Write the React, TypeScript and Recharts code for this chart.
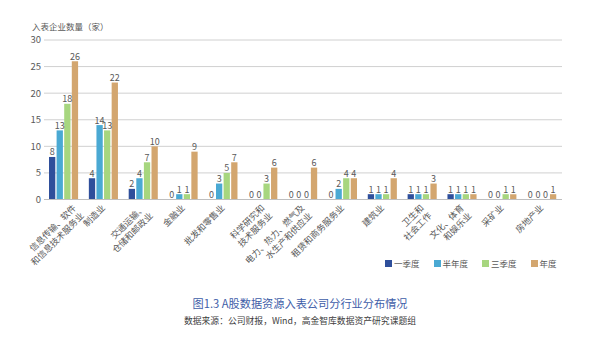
import React from 'react';
import { BarChart, Bar, XAxis, YAxis, CartesianGrid, LabelList, Legend } from 'recharts';

const categories = [
  '信息传输、软件\n和信息技术服务业',
  '制造业',
  '交通运输、\n仓储和邮政业',
  '金融业',
  '批发和零售业',
  '科学研究和\n技术服务业',
  '电力、热力、燃气及\n水生产和供应业',
  '租赁和商务服务业',
  '建筑业',
  '卫生和\n社会工作',
  '文化、体育\n和娱乐业',
  '采矿业',
  '房地产业',
];
const q1 = [8, 4, 2, 0, 0, 0, 0, 0, 1, 1, 1, 0, 0];
const h1 = [13, 14, 4, 1, 3, 0, 0, 2, 1, 1, 1, 0, 0];
const q3 = [18, 13, 7, 1, 5, 3, 0, 4, 1, 1, 1, 1, 0];
const annual = [26, 22, 10, 9, 7, 6, 6, 4, 4, 3, 1, 1, 1];
const yTicks = [0, 5, 10, 15, 20, 25, 30];

const seriesNames = ['一季度', '半年度', '三季度', '年度'];
const seriesKeys = ['q1', 'h1', 'q3', 'annual'];
const colors = ['#2F4F9B', '#4AA9D3', '#A7D67F', '#D3A66F'];

const data = categories.map((c, i) => ({
  name: c,
  q1: q1[i],
  h1: h1[i],
  q3: q3[i],
  annual: annual[i],
}));

const FONT = '"Noto Sans CJK SC", "Noto Sans", sans-serif';
const TICK_FS = 8.8;
const MIN_LEFT = 27;

const XTick = (props: any) => {
  const { x, y, payload } = props;
  const lines = String(payload.value).split('\n');
  const maxLen = Math.max(...lines.map((l) => l.length));
  let dx = 2;
  const left = x + dx - maxLen * TICK_FS * 0.707;
  if (left < MIN_LEFT) dx += MIN_LEFT - left;
  return (
    <g transform={`translate(${x + dx},${y + 9})`}>
      <text transform="rotate(-45)" textAnchor="end" fontSize={TICK_FS} fill="#595959" fontFamily={FONT}>
        {lines.map((l, i) => (
          <tspan key={i} x={0} dy={i === 0 ? 0 : 11}>
            {l}
          </tspan>
        ))}
      </text>
    </g>
  );
};

const LegendContent = () => (
  <div style={{ display: 'flex', alignItems: 'center', fontFamily: FONT, fontSize: 8.5, color: '#595959', lineHeight: 1 }}>
    {seriesNames.map((n, i) => (
      <div key={n} style={{ display: 'flex', alignItems: 'center', marginRight: 14 }}>
        <span style={{ display: 'inline-block', width: 7, height: 7, background: colors[i], marginRight: 2 }} />
        <span>{n}</span>
      </div>
    ))}
  </div>
);

export default function App() {
  return (
    <div style={{ position: 'absolute', left: 0, top: 0, width: 600, height: 341, background: '#fff', fontFamily: FONT }}>
      <BarChart
        width={600}
        height={341}
        data={data}
        margin={{ top: 40, right: 38, bottom: 0, left: 0 }}
        barSize={6.3}
        barGap={1.3}
      >
        <CartesianGrid vertical={false} stroke="#D0D0D0" />
        <XAxis
          dataKey="name"
          interval={0}
          height={141.5}
          tickSize={0}
          tickMargin={0}
          tickLine={false}
          axisLine={{ stroke: '#BFBFBF' }}
          tick={<XTick />}
        />
        <YAxis
          width={44}
          domain={[0, 30]}
          ticks={yTicks}
          tickSize={0}
          tickMargin={3}
          axisLine={false}
          tickLine={false}
          tick={{ fontSize: 9.5, fill: '#595959', fontFamily: FONT }}
        />
        <Legend
          layout="horizontal"
          verticalAlign="middle"
          content={<LegendContent />}
          wrapperStyle={{ top: 259, left: 385, width: 200 }}
        />
        {seriesKeys.map((k, i) => (
          <Bar key={k} dataKey={k} name={seriesNames[i]} fill={colors[i]} minPointSize={0.01} isAnimationActive={false}>
            <LabelList dataKey={k} position="top" offset={1.5} fontSize={9} fill="#595959" fontFamily={FONT} />
          </Bar>
        ))}
      </BarChart>
      <div style={{ position: 'absolute', left: 32, top: 22, fontSize: 8.5, color: '#595959', lineHeight: 1, whiteSpace: 'nowrap' }}>
        入表企业数量（家）
      </div>
      <div style={{ position: 'absolute', left: 0, top: 298, width: 600, textAlign: 'center', fontSize: 11.2, color: '#3E5DA8', lineHeight: 1 }}>
        图1.3 A股数据资源入表公司分行业分布情况
      </div>
      <div style={{ position: 'absolute', left: 0, top: 317, width: 600, textAlign: 'center', fontSize: 8.8, color: '#404040', lineHeight: 1 }}>
        数据来源：公司财报，Wind，高金智库数据资产研究课题组
      </div>
    </div>
  );
}
